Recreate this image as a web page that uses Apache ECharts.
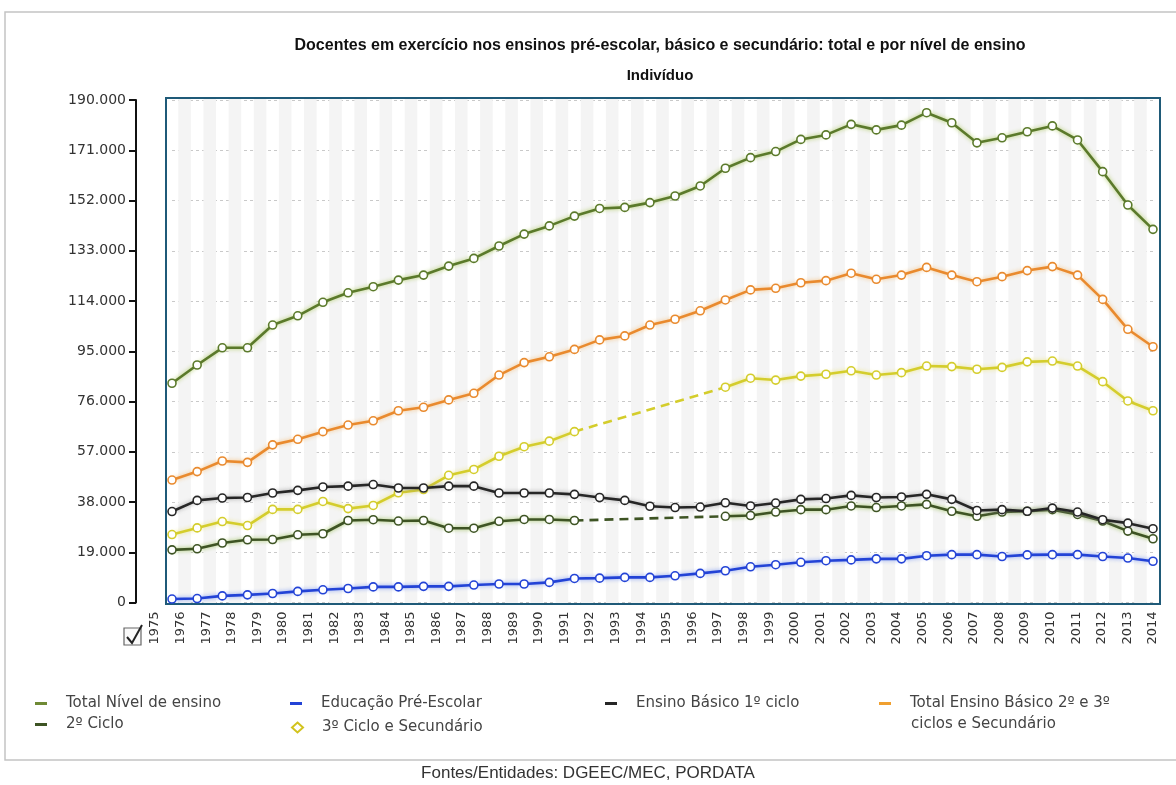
<!DOCTYPE html>
<html>
<head>
<meta charset="utf-8">
<script src="https://cdn.jsdelivr.net/npm/echarts@6/dist/echarts.min.js"></script>
<style>
  html, body { margin: 0; padding: 0; background: #ffffff; }
  #chart { width: 1176px; height: 785px; }
</style>
</head>
<body>
<div id="chart"></div>
<script>
// Anos (categorias do eixo horizontal)
const years = [];
for (let y = 1975; y <= 2014; y++) years.push(String(y));

// Escala do eixo vertical
const yMin = 0;
const yMax = 190000;
const yStep = 19000;

// Séries (número de docentes); null = sem dados
const totalNivel = [82900, 89800, 96300, 96300, 104900, 108400, 113500, 117100, 119400, 121900,
  123800, 127200, 130100, 134800, 139300, 142400, 146100, 149000, 149400, 151200,
  153700, 157500, 164200, 168200, 170500, 175100, 176800, 180800, 178700, 180500,
  185200, 181400, 173800, 175700, 178000, 180200, 174900, 162900, 150300, 141100];

const preEscolar = [1300, 1500, 2500, 2900, 3400, 4200, 4800, 5300, 5900, 5900,
  6100, 6100, 6600, 7000, 7000, 7600, 9100, 9200, 9500, 9500,
  10100, 11000, 12000, 13500, 14300, 15200, 15800, 16100, 16500, 16500,
  17700, 18100, 18100, 17400, 18000, 18100, 18100, 17400, 16800, 15600];

const basico1 = [34400, 38600, 39500, 39700, 41400, 42400, 43700, 44000, 44600, 43300,
  43300, 44000, 44000, 41400, 41400, 41400, 40900, 39700, 38600, 36400,
  35900, 36100, 37700, 36500, 37600, 39000, 39300, 40500, 39700, 39900,
  40900, 39000, 34800, 35100, 34500, 35700, 34200, 31300, 30000, 27900];

const totalBasico23Sec = [46300, 49500, 53500, 53000, 59600, 61700, 64600, 67100, 68700, 72500,
  73800, 76600, 79100, 86000, 90700, 92900, 95700, 99300, 100800, 104900,
  107100, 110300, 114400, 118200, 118800, 120900, 121700, 124500, 122200, 123800,
  126700, 123800, 121300, 123200, 125500, 127000, 123800, 114600, 103300, 96700];

const ciclo2 = [19900, 20300, 22500, 23700, 23800, 25600, 26000, 31000, 31300, 30800,
  31000, 28100, 28100, 30700, 31400, 31400, 31000, null, null, null,
  null, null, 32600, 32900, 34200, 35100, 35100, 36500, 35900, 36500,
  37100, 34500, 32600, 34200, 34500, 35100, 33300, 30800, 27000, 24100];

const ciclo3Sec = [25700, 28200, 30600, 29100, 35200, 35200, 38200, 35500, 36700, 41500,
  42700, 48100, 50300, 55300, 58900, 61000, 64600, null, null, null,
  null, null, 81400, 84800, 84100, 85600, 86300, 87600, 86000, 86900,
  89400, 89200, 88200, 88900, 91000, 91300, 89400, 83500, 76200, 72500];

// Nomes das séries (legenda)
const N_TOTAL = 'Total Nível de ensino';
const N_PRE = 'Educação Pré-Escolar';
const N_B1 = 'Ensino Básico 1º ciclo';
const N_T23 = 'Total Ensino Básico 2º e 3º ciclos e Secundário';
const N_C2 = '2º Ciclo';
const N_C3 = '3º Ciclo e Secundário';

const fmtThousands = v => String(v).replace(/\B(?=(\d{3})+(?!\d))/g, '.');

// Liga os extremos de cada lacuna (valores em falta) com um traço interrompido
function gapBridge(arr) {
  const out = arr.map(() => null);
  for (let i = 1; i < arr.length; i++) {
    if (arr[i] == null && arr[i - 1] != null) {
      let j = i;
      while (j < arr.length && arr[j] == null) j++;
      if (j < arr.length) { out[i - 1] = arr[i - 1]; out[j] = arr[j]; }
    }
  }
  return out;
}

function lineSeries(name, data, color, glow, z) {
  return {
    name, type: 'line', data, z,
    xAxisIndex: 0, yAxisIndex: 0,
    connectNulls: false,
    symbol: 'circle', symbolSize: 8,
    lineStyle: { color, width: 2.6, shadowColor: glow, shadowBlur: 4 },
    itemStyle: { color: '#ffffff', borderColor: color, borderWidth: 1.6 },
    emphasis: { disabled: true },
    animation: false
  };
}
function bridgeSeries(name, data, color, z) {
  return {
    name, type: 'line', data: gapBridge(data), z,
    xAxisIndex: 0, yAxisIndex: 0,
    connectNulls: true, symbol: 'none',
    lineStyle: { color, width: 2.6, type: [9, 6] },
    emphasis: { disabled: true },
    animation: false
  };
}

const C = {
  total: '#5b7a2b', totalGlow: 'rgba(170,200,90,0.9)',
  pre: '#2343d6', preGlow: 'rgba(120,150,245,0.9)',
  b1: '#262626', b1Glow: 'rgba(140,140,140,0.8)',
  t23: '#e98a2e', t23Glow: 'rgba(246,190,120,0.9)',
  c2: '#3e5424', c2Glow: 'rgba(150,190,80,0.9)',
  c3: '#d4cd2c', c3Glow: 'rgba(236,228,120,0.9)'
};

const LEGEND_FS = 15;
const legendFont = { fontFamily: 'DejaVu Sans', fontSize: LEGEND_FS, color: '#444', padding: [0, 0, 0, 14] };
function legendItem(name, color) {
  return { name, itemStyle: { color, borderWidth: 0 }, lineStyle: { color, width: 0 } };
}

// faixas verticais alternadas do fundo (meia largura de categoria)
const stripeSlots = [];
for (let i = 0; i < (years.length - 1) * 2; i++) stripeSlots.push(i);

const chart = echarts.init(document.getElementById('chart'), null, { renderer: 'canvas' });

chart.setOption({
  backgroundColor: '#ffffff',
  animation: false,
  grid: [
    // área dos dados
    { left: 172, right: 23, top: 100, bottom: 182.5 },
    // moldura da área de desenho
    { left: 166, right: 16, top: 98, bottom: 181, show: true, borderColor: '#1f5a78', borderWidth: 2, backgroundColor: 'transparent', z: 3 },
    // rótulos dos anos
    { left: 155, right: 23, top: 100, bottom: 182.5 },
    // faixas de fundo
    { left: 178.3, right: 16.7, top: 99, bottom: 182 }
  ],
  xAxis: [
    { type: 'category', data: years, gridIndex: 0, boundaryGap: false, show: false },
    { type: 'value', gridIndex: 1, show: false, min: 0, max: 1 },
    {
      type: 'category', data: years, gridIndex: 2, boundaryGap: false,
      axisLine: { show: false }, axisTick: { show: false },
      axisLabel: { rotate: 90, margin: 9, interval: 0, fontFamily: 'DejaVu Sans', fontSize: 13, color: '#333' },
      splitLine: { show: false }
    },
    {
      type: 'category', data: stripeSlots, gridIndex: 3, boundaryGap: true,
      axisLine: { show: false }, axisTick: { show: false }, axisLabel: { show: false },
      splitLine: { show: false },
      splitArea: { show: true, interval: 0, areaStyle: { color: ['#f4f4f4', 'rgba(255,255,255,0)'] } }
    }
  ],
  yAxis: [
    {
      type: 'value', gridIndex: 0, min: yMin, max: yMax, interval: yStep,
      offset: 36,
      axisLine: { show: true, lineStyle: { color: '#111', width: 2 } },
      axisTick: { show: true, inside: false, length: 7, lineStyle: { color: '#111', width: 2 } },
      axisLabel: { margin: 10, fontFamily: 'DejaVu Sans', fontSize: 14, color: '#333', formatter: fmtThousands },
      splitLine: { show: true, lineStyle: { color: '#c9c9c9', type: [3, 3], width: 1 } }
    },
    { type: 'value', gridIndex: 1, show: false, min: 0, max: 1 },
    { type: 'value', gridIndex: 2, show: false, min: 0, max: 1 },
    { type: 'value', gridIndex: 3, show: false, min: 0, max: 1 }
  ],
  legend: [
    { left: 30, top: 691, orient: 'vertical', itemGap: 6, itemWidth: 12, itemHeight: 3, icon: 'rect',
      data: [legendItem(N_TOTAL, '#6f8a35'), legendItem(N_C2, '#3e5424')], textStyle: legendFont, selectedMode: false },
    { left: 285, top: 691, orient: 'vertical', itemGap: 6, itemWidth: 12, itemHeight: 3, icon: 'rect',
      data: [legendItem(N_PRE, '#2343d6')], textStyle: legendFont, selectedMode: false },
    { left: 286, top: 715, orient: 'vertical', itemGap: 6, itemWidth: 11, itemHeight: 10, icon: 'emptyDiamond',
      data: [{ name: N_C3, itemStyle: { color: '#d2c31e', borderColor: '#d2c31e', borderWidth: 2 } }],
      textStyle: { ...legendFont, padding: [0, 0, 0, 14] }, selectedMode: false },
    { left: 600, top: 691, orient: 'vertical', itemGap: 6, itemWidth: 12, itemHeight: 3, icon: 'rect',
      data: [legendItem(N_B1, '#262626')], textStyle: legendFont, selectedMode: false },
    { left: 874, top: 691, orient: 'vertical', itemGap: 6, itemWidth: 12, itemHeight: 3, icon: 'rect',
      data: [legendItem(N_T23, '#f0a030')], textStyle: legendFont, selectedMode: false,
      formatter: () => 'Total Ensino Básico 2º e 3º' }
  ],
  graphic: [
    { type: 'rect', silent: true, z: -10, shape: { x: 5, y: 12, width: 1200, height: 748 },
      style: { fill: 'none', stroke: '#c4c4c4', lineWidth: 1.5 } },
    { type: 'text', silent: true, x: 660, y: 46,
      style: { text: 'Docentes em exercício nos ensinos pré-escolar, básico e secundário: total e por nível de ensino',
        font: 'bold 16px "Liberation Sans", Arial, sans-serif', fill: '#111', align: 'center', verticalAlign: 'middle' } },
    { type: 'text', silent: true, x: 660, y: 76,
      style: { text: 'Indivíduo', font: 'bold 15px "Liberation Sans", Arial, sans-serif', fill: '#111', align: 'center', verticalAlign: 'middle' } },
    { type: 'rect', silent: true, shape: { x: 124, y: 628, width: 17, height: 17 },
      style: { fill: '#fafafa', stroke: '#666', lineWidth: 1.2 } },
    { type: 'polyline', silent: true, shape: { points: [[127, 637], [132, 643], [142, 625]] },
      style: { fill: 'none', stroke: '#222', lineWidth: 2 } },
    { type: 'text', silent: true, x: 911, y: 724,
      style: { text: 'ciclos e Secundário', font: LEGEND_FS + 'px "DejaVu Sans"', fill: '#444', verticalAlign: 'middle' } },
    { type: 'text', silent: true, x: 588, y: 773,
      style: { text: 'Fontes/Entidades: DGEEC/MEC, PORDATA', font: '17px "Liberation Sans", Arial, sans-serif', fill: '#333', align: 'center', verticalAlign: 'middle' } }
  ],
  series: [
    lineSeries(N_PRE, preEscolar, C.pre, C.preGlow, 5),
    lineSeries(N_C2, ciclo2, C.c2, C.c2Glow, 6),
    bridgeSeries(N_C2, ciclo2, C.c2, 6),
    lineSeries(N_C3, ciclo3Sec, C.c3, C.c3Glow, 7),
    bridgeSeries(N_C3, ciclo3Sec, C.c3, 7),
    lineSeries(N_B1, basico1, C.b1, C.b1Glow, 8),
    lineSeries(N_T23, totalBasico23Sec, C.t23, C.t23Glow, 9),
    lineSeries(N_TOTAL, totalNivel, C.total, C.totalGlow, 10)
  ]
});
</script>
</body>
</html>
